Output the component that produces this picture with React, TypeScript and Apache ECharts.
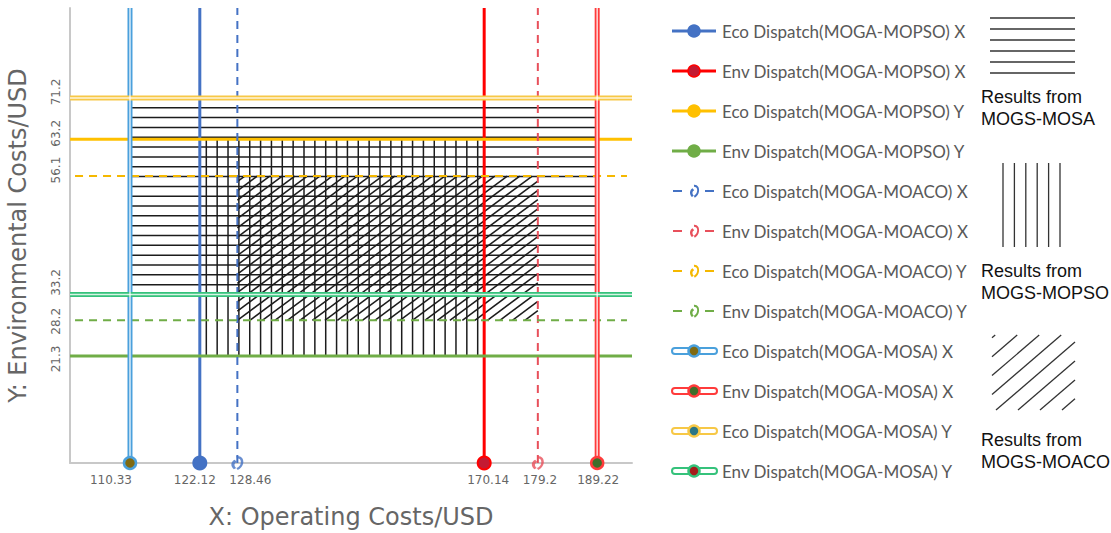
import React, { useEffect, useRef } from "react";
import * as echarts from "echarts";

// ---------------- data ----------------
const dispatchKinds = ["Eco Dispatch", "Env Dispatch"];
const methods = ["MOGA-MOPSO", "MOGA-MOACO", "MOGA-MOSA"];
const ecoCostX = [122.12, 128.46, 110.33];
const envCostX = [170.14, 179.2, 189.22];
const ecoCostY = [63.2, 56.1, 71.2];
const envCostY = [21.3, 28.2, 33.2];
const resultNames = ["MOGS-MOSA", "MOGS-MOPSO", "MOGS-MOACO"];
const X_RANGE = [100.2, 195.1];
const Y_RANGE = [0.6, 88.6];
const xAxisName = "X: Operating Costs/USD";
const yAxisName = "Y: Environmental Costs/USD";

const xTicks = [...ecoCostX, ...envCostX].sort((a, b) => a - b);
const yTicks = [...ecoCostY, ...envCostY].sort((a, b) => a - b);

// ---------------- styles ----------------
const methodStyles = [
  { kind: "solid", width: 3, colors: ["#4472c4", "#ff0000", "#ffc000", "#70ad47"], dots: ["#4472c4", "#c41a32", "#ffc000", "#70ad47"] },
  { kind: "dashed", width: 2, colors: ["#4472c4", "#e8505b", "#f5b800", "#70ad47"], dots: ["#4472c4", "#e8505b", "#f5b800", "#70ad47"] },
  { kind: "double", width: 5, colors: ["#4aa0dc", "#ff3b3b", "#f7c846", "#35c27b"], dots: ["#7f6a12", "#3f6e2a", "#2a7585", "#a51b1b"] },
];
const xLabelShift = [-19, -5, 13, 4, 2, 1]; // px along axis, per sorted x tick
const yLabelShift = [3, 1, -12, -6, -6, -6]; // px (down positive), per sorted y tick
const FONT_TICK = "DejaVu Sans";
const GLYPH =
  "M7 6C2 8.5 2 15 6 18.5L8.8 16.8C6 14 6 10.5 9.5 8.8Z M9 1C15 0.5 17.5 5 17 10C16.5 14.5 14 17.5 10.5 19.5L9 17C12 15.3 13.8 13 14.1 9.8C14.5 5.8 12.8 3.8 9.6 4.2Z";

echarts.graphic.registerShape("moacoGlyph", echarts.graphic.extendPath(GLYPH, {}) as any);

// ---------------- hatch helpers ----------------
function hatchLines(kind: string, xl: number, yt: number, xr: number, yb: number, o: any) {
  const out: any[] = [];
  const style = { stroke: o.color, lineWidth: o.lw };
  if (kind === "h") {
    const h = yb - yt - 2 * o.inset;
    for (let k = 0; k < o.n; k++) {
      const y = yt + o.inset + (k * h) / (o.n - 1);
      out.push({ type: "line", shape: { x1: xl, y1: y, x2: xr, y2: y }, style });
    }
  } else if (kind === "v") {
    const w = xr - xl - 2 * o.inset;
    for (let k = 0; k < o.n; k++) {
      const x = xl + o.inset + (k * w) / (o.n - 1);
      out.push({ type: "line", shape: { x1: x, y1: yt, x2: x, y2: yb }, style });
    }
  } else {
    const H = yb - yt;
    const m = o.slope;
    const tH = H / m;
    const kStart = Math.floor(-tH / o.step) - 1;
    for (let k = kStart; xl + o.phase + k * o.step < xr; k++) {
      const x0 = xl + o.phase + k * o.step;
      const tMin = Math.max(0, xl - x0);
      const tMax = Math.min(tH, xr - x0);
      if (tMax - tMin < 2) continue;
      out.push({
        type: "line",
        shape: { x1: x0 + tMin, y1: yb - m * tMin, x2: x0 + tMax, y2: yb - m * tMax },
        style,
      });
    }
  }
  return out;
}

const hatchSpecs = [
  { kind: "h", n: 19, inset: 9.8, color: "#1c1c1c", lw: 1.5 },
  { kind: "v", n: 26, inset: 6.5, color: "#1c1c1c", lw: 1.5 },
  { kind: "d", slope: 0.74, step: 12.5, phase: 0, color: "#1c1c1c", lw: 1.5 },
];

function buildOption() {
  const series: any[] = [];
  const legendEls: any[] = [];
  let idx = 0;
  methods.forEach((method, m) => {
    const st = methodStyles[m];
    const vals = [ecoCostX[m], envCostX[m], ecoCostY[m], envCostY[m]];
    vals.forEach((v, k) => {
      const isX = k < 2;
      const name = `${dispatchKinds[k % 2]}(${method}) ${isX ? "X" : "Y"}`;
      const color = st.colors[k];
      const inset = st.kind === "dashed" && !isX ? 0.85 : 0;
      const data = isX
        ? [[v, Y_RANGE[0]], [v, Y_RANGE[1]]]
        : [[X_RANGE[0] + inset, v], [X_RANGE[1] - inset, v]];
      series.push({
        type: "line",
        name,
        data,
        symbol: "none",
        silent: true,
        clip: false,
        z: 3,
        lineStyle: { color, width: st.width, type: st.kind === "dashed" ? [8, 6] : "solid" },
      });
      if (st.kind === "double") {
        series.push({
          type: "line",
          name: name + " ",
          data,
          symbol: "none",
          silent: true,
          clip: false,
          z: 4,
          lineStyle: { color: "rgba(255,255,255,0.8)", width: 1.5 },
        });
      }
      if (isX) {
        const marker: any = {
          type: "scatter",
          name: name + "  ",
          data: [[v, Y_RANGE[0]]],
          silent: true,
          clip: false,
          z: 6,
        };
        if (st.kind === "dashed") {
          marker.symbol = "path://" + GLYPH;
          marker.symbolSize = [12, 14];
          marker.itemStyle = { color };
        } else if (st.kind === "double") {
          marker.symbol = "circle";
          marker.symbolSize = 12;
          marker.itemStyle = { color: st.dots[k], borderColor: color, borderWidth: 2.5, opacity: 1 };
        } else {
          marker.symbol = "circle";
          marker.symbolSize = 13;
          marker.itemStyle = { color: st.dots[k], borderColor: color, borderWidth: 2, opacity: 1 };
        }
        series.push(marker);
      }

      // legend entry (graphic)
      const cy = 31 + 40 * idx;
      if (st.kind === "solid") {
        legendEls.push({ type: "line", shape: { x1: 672, y1: cy, x2: 716, y2: cy }, style: { stroke: color, lineWidth: 3 } });
        legendEls.push({ type: "circle", shape: { cx: 694, cy, r: 6 }, style: { fill: st.dots[k], stroke: color, lineWidth: 1.5 } });
      } else if (st.kind === "dashed") {
        legendEls.push({ type: "line", shape: { x1: 673, y1: cy, x2: 682, y2: cy }, style: { stroke: color, lineWidth: 2 } });
        legendEls.push({ type: "line", shape: { x1: 705, y1: cy, x2: 714, y2: cy }, style: { stroke: color, lineWidth: 2 } });
        legendEls.push({ type: "moacoGlyph", x: 688, y: cy - 7, scaleX: 0.65, scaleY: 0.7, style: { fill: color } });
      } else {
        legendEls.push({ type: "rect", shape: { x: 672, y: cy - 3, width: 45, height: 6, r: 3 }, style: { fill: "#ffffff", stroke: color, lineWidth: 2 } });
        legendEls.push({ type: "circle", shape: { cx: 694, cy, r: 5.5 }, style: { fill: st.dots[k], stroke: color, lineWidth: 2.5 } });
      }
      legendEls.push({
        type: "text",
        x: 722,
        y: cy,
        style: { text: name, fill: "#595959", fontSize: 17, fontFamily: "Lato", verticalAlign: "middle", align: "left" },
      });
      idx++;
    });
  });

  // hatch regions: MOSA (horizontal), MOPSO (vertical), MOACO (diagonal)
  const regionOrder = [2, 0, 1];
  regionOrder.forEach((m, j) => {
    const spec = hatchSpecs[j];
    series.push({
      type: "custom",
      name: "Results from " + resultNames[j],
      silent: true,
      clip: false,
      z: 1,
      encode: { x: [0, 2], y: [1, 3] },
      data: [[ecoCostX[m], envCostY[m], envCostX[m], ecoCostY[m]]],
      renderItem: (params: any, api: any) => {
        const a = api.coord([api.value(0), api.value(3)]);
        const b = api.coord([api.value(2), api.value(1)]);
        return { type: "group", children: hatchLines(spec.kind, a[0], a[1], b[0], b[1], spec) };
      },
    });
  });

  // right-hand pattern legend
  const patternBoxes = [
    { kind: "h", box: [990, 18, 1075, 73], o: { n: 6, inset: 0, color: "#333", lw: 1.3 }, ty: 97 },
    { kind: "v", box: [1003, 163, 1060, 247], o: { n: 6, inset: 0, color: "#333", lw: 1.3 }, ty: 271 },
    { kind: "d", box: [992, 335, 1075, 410], o: { slope: 0.86, step: 22, phase: 4, color: "#333", lw: 1.3 }, ty: 440 },
  ];
  const patternEls: any[] = [];
  patternBoxes.forEach((p, j) => {
    hatchLines(p.kind, p.box[0], p.box[1], p.box[2], p.box[3], p.o).forEach((e) => patternEls.push(e));
    patternEls.push({
      type: "text",
      x: 981,
      y: p.ty,
      style: { text: "Results from", fill: "#111", fontSize: 18, fontFamily: "Liberation Sans", verticalAlign: "middle" },
    });
    patternEls.push({
      type: "text",
      x: 981,
      y: p.ty + 22,
      style: { text: resultNames[j], fill: "#111", fontSize: 18, fontFamily: "Liberation Sans", verticalAlign: "middle" },
    });
  });

  const xRich: any = {};
  xTicks.forEach((v, i) => {
    const d = xLabelShift[i];
    xRich["t" + i] = {
      fontSize: 12,
      fontFamily: FONT_TICK,
      color: "#666",
      padding: d < 0 ? [0, -2 * d, 0, 0] : [0, 0, 0, 2 * d],
    };
  });
  const yRich: any = {};
  yTicks.forEach((v, i) => {
    const d = yLabelShift[i];
    yRich["t" + i] = {
      fontSize: 12,
      fontFamily: FONT_TICK,
      color: "#666",
      padding: d < 0 ? [0, 0, 0, -2 * d] : [0, 2 * d, 0, 0],
    };
  });

  return {
    animation: false,
    backgroundColor: "#ffffff",
    grid: { left: 70, top: 8, width: 562, height: 455, containLabel: false, outerBoundsMode: "none" },
    xAxis: {
      type: "value",
      min: X_RANGE[0],
      max: X_RANGE[1],
      name: xAxisName,
      nameLocation: "middle",
      nameGap: 42,
      nameTextStyle: { fontSize: 24, color: "#666", fontFamily: FONT_TICK },
      axisLine: { show: true, lineStyle: { color: "#c8c8c8", width: 2 } },
      axisTick: { show: false },
      splitLine: { show: false },
      axisLabel: {
        customValues: xTicks,
        margin: 11,
        fontSize: 12,
        fontFamily: FONT_TICK,
        color: "#666",
        rich: xRich,
        formatter: (v: number) => {
          const i = xTicks.findIndex((t) => Math.abs(t - v) < 1e-6);
          return i < 0 ? "" : `{t${i}|${v}}`;
        },
      },
    },
    yAxis: {
      type: "value",
      min: Y_RANGE[0],
      max: Y_RANGE[1],
      name: yAxisName,
      nameLocation: "middle",
      nameGap: 40,
      nameTextStyle: { fontSize: 24, color: "#666", fontFamily: FONT_TICK },
      axisLine: { show: true, lineStyle: { color: "#c8c8c8", width: 2 } },
      axisTick: { show: false },
      splitLine: { show: false },
      axisLabel: {
        customValues: yTicks,
        rotate: 90,
        margin: 8,
        fontSize: 12,
        fontFamily: FONT_TICK,
        color: "#666",
        rich: yRich,
        formatter: (v: number) => {
          const i = yTicks.findIndex((t) => Math.abs(t - v) < 1e-6);
          return i < 0 ? "" : `{t${i}|${v}}`;
        },
      },
    },
    series,
    graphic: [...legendEls, ...patternEls],
  };
}

export default function App() {
  const ref = useRef<HTMLDivElement>(null);
  useEffect(() => {
    document.body.style.margin = "0";
    const chart = echarts.init(ref.current as HTMLDivElement, null, { renderer: "svg" });
    chart.setOption(buildOption() as any);
    return () => chart.dispose();
  }, []);
  return <div ref={ref} style={{ width: 1111, height: 533 }} />;
}
